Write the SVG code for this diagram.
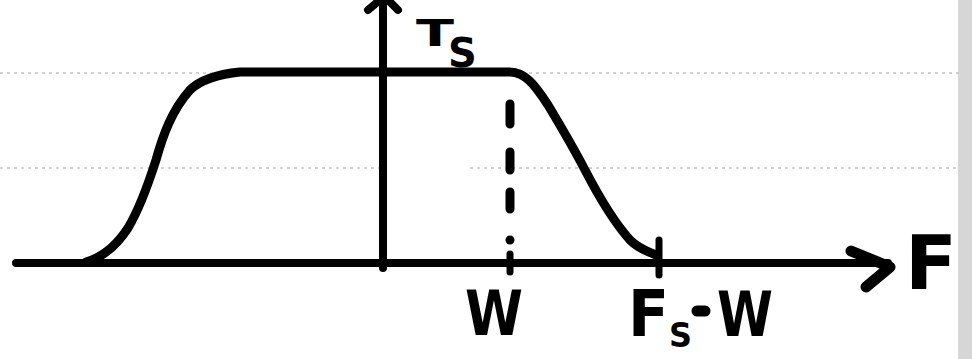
<svg xmlns="http://www.w3.org/2000/svg" width="972" height="359" viewBox="0 0 972 359">
<style>
.ink{fill:none;stroke:#000;stroke-linecap:round;stroke-linejoin:round}
.lbl{font-family:"DejaVu Sans",sans-serif;font-weight:bold;fill:#000}
.faint{stroke:#c4c4c4;stroke-width:1.5;stroke-dasharray:3 4;fill:none}
</style>
<rect width="972" height="359" fill="#fff"/>
<rect x="958" y="0" width="14" height="359" fill="#d6d6d6"/>
<g id="paper-lines">
<path class="faint" d="M0 73 H240 M515 73 H960"/>
<path class="faint" d="M0 168 H380 M470 168 H960"/>
</g>
<g id="connectors">
<path class="ink" stroke-width="8" d="M16 263 H888"/>
<path class="ink" stroke-width="11" d="M851 251 L890 267 L866 287"/>
<path class="ink" stroke-width="8" d="M383 4 V268"/>
<path class="ink" stroke-width="8" d="M368 10 L380 0 M398 10 L388 0"/>
</g>
<g id="spectrum">
<path class="ink" stroke-width="9" d="M86 262 C100 258 115 248 128 228 C140 208 148 185 156 160 C163 135 172 110 190 90 C200 80 220 74 240 72 L510 72 C525 72 535 85 548 105 C560 125 572 145 585 170 C598 195 612 220 630 240 C640 250 650 252 656 255"/>
<path class="ink" stroke-width="7" d="M659 240 V275"/>
</g>
<g id="cutoff">
<path class="ink" stroke-width="9" d="M510 104 V124 M510 152 V170 M510 192 V209"/>
<circle cx="510" cy="240" r="4.5" fill="#000"/>
<path class="ink" stroke-width="7" d="M510 254 V272"/>
</g>
<g id="labels">
<text class="lbl" x="416" y="46" font-size="38" textLength="38" lengthAdjust="spacingAndGlyphs">T</text>
<text class="lbl" x="448" y="67" font-size="40">S</text>
<text class="lbl" x="465" y="335" font-size="62" textLength="58" lengthAdjust="spacingAndGlyphs">W</text>
<text class="lbl" x="628" y="336" font-size="64" textLength="64" lengthAdjust="spacingAndGlyphs">F<tspan dy="11" font-size="34">S</tspan></text>
<path class="ink" stroke-width="11" d="M697 311 H705"/>
<text class="lbl" x="717" y="336" font-size="62" textLength="56" lengthAdjust="spacingAndGlyphs">W</text>
<text class="lbl" x="905" y="289" font-size="74" textLength="52" lengthAdjust="spacingAndGlyphs">F</text>
</g>
</svg>
